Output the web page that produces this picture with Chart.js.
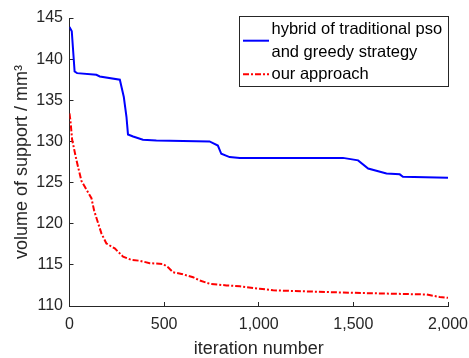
<!DOCTYPE html>
<html>
<head>
<meta charset="utf-8">
<script src="https://cdn.jsdelivr.net/npm/chart.js@4/dist/chart.umd.min.js"></script>
<style>
  html, body { margin: 0; padding: 0; background: #fff; }
  #wrap { width: 469px; height: 358px; }
</style>
</head>
<body>
<div id="wrap"><canvas id="convChart" width="469" height="358"></canvas></div>
<script>
// iteration / volume values
const hybridIter = [0, 12, 27, 40, 142, 160, 266, 287, 301, 309, 336, 388, 459, 740, 784, 802, 846, 900, 1445, 1525, 1578, 1675, 1745, 1762, 2000];
const hybridVol  = [143.9, 143.4, 138.5, 138.3, 138.1, 137.9, 137.5, 135.4, 133.0, 130.85, 130.6, 130.2, 130.1, 130.0, 129.5, 128.5, 128.1, 128.0, 128.0, 127.7, 126.7, 126.1, 126.0, 125.7, 125.6];

const oursIter = [0, 5, 14, 37, 63, 116, 130, 169, 195, 239, 283, 328, 371, 424, 494, 521, 547, 592, 653, 688, 741, 829, 900, 970, 1005, 1076, 1499, 1886, 1956, 2000];
const oursVol  = [133.4, 132.5, 130.2, 127.7, 125.2, 123.1, 121.6, 118.8, 117.6, 117.0, 116.0, 115.6, 115.5, 115.2, 115.1, 114.7, 114.1, 113.9, 113.5, 113.1, 112.7, 112.5, 112.4, 112.2, 112.1, 111.9, 111.6, 111.4, 111.1, 111.0];

const seriesNames = ['hybrid of traditional pso', 'and greedy strategy', 'our approach'];
const xTicks = [0, 500, 1000, 1500, 2000];
const yTicks = [110, 115, 120, 125, 130, 135, 140, 145];

const AXIS_COLOR = '#262626';
Chart.defaults.font.family = "'Liberation Sans', Arial, sans-serif";
Chart.defaults.color = AXIS_COLOR;

const toPoints = (xs, ys) => xs.map((x, i) => ({ x: x, y: ys[i] }));

// boxed legend like the matlab one (two-line first entry)
const boxLegend = {
  id: 'boxLegend',
  afterDraw(chart) {
    const ctx = chart.ctx;
    const ds = chart.data.datasets;
    ctx.save();
    ctx.fillStyle = '#fff';
    ctx.fillRect(239.5, 16.5, 209, 70);
    ctx.strokeStyle = AXIS_COLOR;
    ctx.lineWidth = 1;
    ctx.strokeRect(239.5, 16.5, 209, 70);

    const sample = (d, y) => {
      ctx.beginPath();
      ctx.strokeStyle = d.borderColor;
      ctx.lineWidth = d.borderWidth;
      ctx.setLineDash(d.borderDash || []);
      ctx.moveTo(243, y);
      ctx.lineTo(269, y);
      ctx.stroke();
      ctx.setLineDash([]);
    };
    sample(ds[0], 40.7);
    sample(ds[1], 74.3);

    ctx.fillStyle = '#000';
    ctx.font = "16.5px 'Liberation Sans', Arial, sans-serif";
    ctx.textBaseline = 'middle';
    ctx.textAlign = 'left';
    ctx.fillText(seriesNames[0], 271.5, 29.5);
    ctx.fillText(seriesNames[1], 271.5, 52);
    ctx.fillText(seriesNames[2], 271.5, 74.5);
    ctx.restore();
  }
};

new Chart(document.getElementById('convChart'), {
  type: 'line',
  data: {
    datasets: [{
      label: seriesNames[0] + ' ' + seriesNames[1],
      data: toPoints(hybridIter, hybridVol),
      borderColor: '#0000ff',
      borderWidth: 2,
      pointRadius: 0,
      tension: 0
    }, {
      label: seriesNames[2],
      data: toPoints(oursIter, oursVol),
      borderColor: '#ff0000',
      borderWidth: 2,
      borderDash: [6, 2, 2, 2],
      pointRadius: 0,
      tension: 0
    }]
  },
  options: {
    responsive: false,
    animation: false,
    layout: { padding: { top: 18, right: 21, left: 0, bottom: 0 } },
    plugins: { legend: { display: false }, tooltip: { enabled: false } },
    scales: {
      x: {
        type: 'linear',
        min: 0, max: 2000,
        // fixed box so the plot area sits where the matlab axes are
        afterFit: s => { s.height = 52; s.paddingLeft = 0; s.paddingRight = 0; },
        afterBuildTicks: s => { s.ticks = xTicks.map(v => ({ value: v })); },
        grid: { drawOnChartArea: false, tickLength: -4, color: AXIS_COLOR },
        border: { color: AXIS_COLOR, width: 1 },
        ticks: { maxRotation: 0, padding: 13, font: { size: 16 }, color: AXIS_COLOR },
        title: { display: true, text: 'iteration number', font: { size: 18, lineHeight: 1 }, padding: { top: 0, bottom: 0 }, color: AXIS_COLOR }
      },
      y: {
        min: 110, max: 145,
        afterFit: s => { s.width = 69.5; s.paddingTop = 0; s.paddingBottom = 0; },
        afterBuildTicks: s => { s.ticks = yTicks.map(v => ({ value: v })); },
        grid: { drawOnChartArea: false, tickLength: -4, color: AXIS_COLOR },
        border: { color: AXIS_COLOR, width: 1 },
        ticks: { padding: 10.5, font: { size: 16 }, color: AXIS_COLOR },
        title: { display: true, text: 'volume of support / mm³', font: { size: 18, lineHeight: 1 }, padding: { top: 13, bottom: 0 }, color: AXIS_COLOR }
      }
    }
  },
  plugins: [boxLegend]
});
</script>
</body>
</html>
